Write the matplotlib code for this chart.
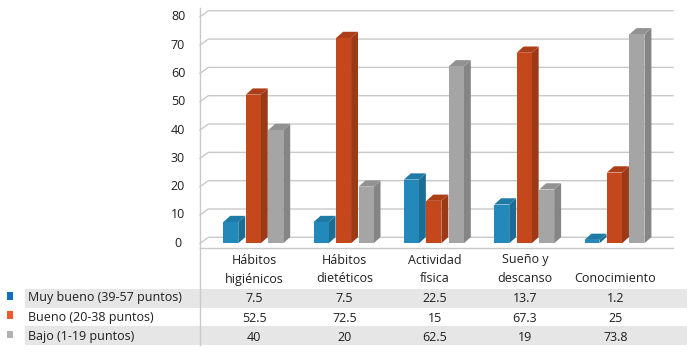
import matplotlib
matplotlib.use("Agg")
import matplotlib.pyplot as plt
from matplotlib.patches import Polygon, Rectangle
from matplotlib.lines import Line2D
import matplotlib.transforms as mtransforms

plt.rcParams['font.family'] = ['Open Sans', 'DejaVu Sans']

# data
categories = ["Hábitos\nhigiénicos", "Hábitos\ndietéticos", "Actividad\nfísica",
              "Sueño y\ndescanso", "Conocimiento"]
series_names = ["Muy bueno (39-57 puntos)", "Bueno (20-38 puntos)", "Bajo (1-19 puntos)"]
muy_bueno = [7.5, 7.5, 22.5, 13.7, 1.2]
bueno = [52.5, 72.5, 15, 67.3, 25]
bajo = [40, 20, 62.5, 19, 73.8]
values = [muy_bueno, bueno, bajo]
y_ticks = [0, 10, 20, 30, 40, 50, 60, 70, 80]

# colours: front, side, top, legend swatch
front_cols = ["#2389ba", "#c4481c", "#a5a5a5"]
side_cols = ["#1c6d94", "#9c3916", "#858585"]
top_cols = ["#1f7aa6", "#ad3f18", "#929292"]
swatch_cols = ["#0f6fba", "#f05a28", "#b2b2b2"]
text_col = "#1e1e1e"
grid_col = "#c9c9c9"

W, H = 696, 356
fig = plt.figure(figsize=(W / 100, H / 100), dpi=100)

def fy(py):
    return (H - py) / H

ax = fig.add_axes([200 / W, fy(248), 473 / W, 240 / H])
ax.set_xlim(-0.598, 4.64)
ax.set_ylim(-1.66, 83.1)
ax.set_xticks([])
ax.set_yticks([])
for s in ["top", "right"]:
    ax.spines[s].set_visible(False)
for s in ["left", "bottom"]:
    ax.spines[s].set_color(grid_col)
    ax.spines[s].set_linewidth(1)

# back wall gridlines with a short diagonal on the side wall
x0, x1 = ax.get_xlim()
wdx, wdy = 0.092, 2.12
for v in y_ticks:
    ax.plot([x0, x0 + wdx, x1], [v, v + wdy, v + wdy], color=grid_col, lw=1,
            zorder=1, clip_on=False)
    ax.text(-0.0465, v, str(v), transform=ax.get_yaxis_transform(),
            ha="center", va="center", fontsize=9, color=text_col)

# pseudo 3d bars
bw, pitch, off = 0.166, 0.249, -0.34
ddx, ddy = 0.077, 2.2
for k, vals in enumerate(values):
    for i, v in enumerate(vals):
        left = i + off + k * pitch
        z = 3 + i * 3 + k
        ax.bar(left, v, bw, align="edge", color=front_cols[k], zorder=z + 0.2,
               linewidth=0)
        side = [(left + bw, 0), (left + bw + ddx, ddy), (left + bw + ddx, v + ddy),
                (left + bw, v)]
        top = [(left, v), (left + bw, v), (left + bw + ddx, v + ddy), (left + ddx, v + ddy)]
        ax.add_patch(Polygon(side, closed=True, color=side_cols[k], lw=0, zorder=z))
        ax.add_patch(Polygon(top, closed=True, color=top_cols[k], lw=0, zorder=z + 0.1))

# category labels and data table below
bt = mtransforms.blended_transform_factory(ax.transData, fig.transFigure)
for i, cat in enumerate(categories):
    lines = cat.split("\n")
    for j, line in enumerate(reversed(lines)):
        fig.text(i, fy(279 - 19 * j), line, transform=bt, ha="center", va="center",
                 fontsize=9, color=text_col)

row_y = [298, 317, 336.5]
row_top = [289, 307, 326]
for r in range(3):
    if r != 1:
        fig.add_artist(Rectangle((25 / W, fy(row_top[r] + 18.5)), 662 / W, 18.5 / H,
                                 transform=fig.transFigure, color="#e6e6e6", lw=0,
                                 zorder=0))
    fig.add_artist(Rectangle((7.3 / W, fy(row_y[r] - 2 + 3.8)), 6 / W, 7.6 / H,
                             transform=fig.transFigure, color=swatch_cols[r], lw=0))
    fig.text(28 / W, fy(row_y[r]), series_names[r], ha="left", va="center",
             fontsize=9, color=text_col)
    for i, v in enumerate(values[r]):
        fig.text(i, fy(row_y[r] + 1), f"{v:g}", transform=bt, ha="center",
                 va="center", fontsize=9, color=text_col)

# left border continuing down through the table
fig.add_artist(Line2D([200 / W, 200 / W], [fy(248), fy(345)], transform=fig.transFigure,
                      color=grid_col, lw=1))

fig.savefig("out.png", dpi=100)
